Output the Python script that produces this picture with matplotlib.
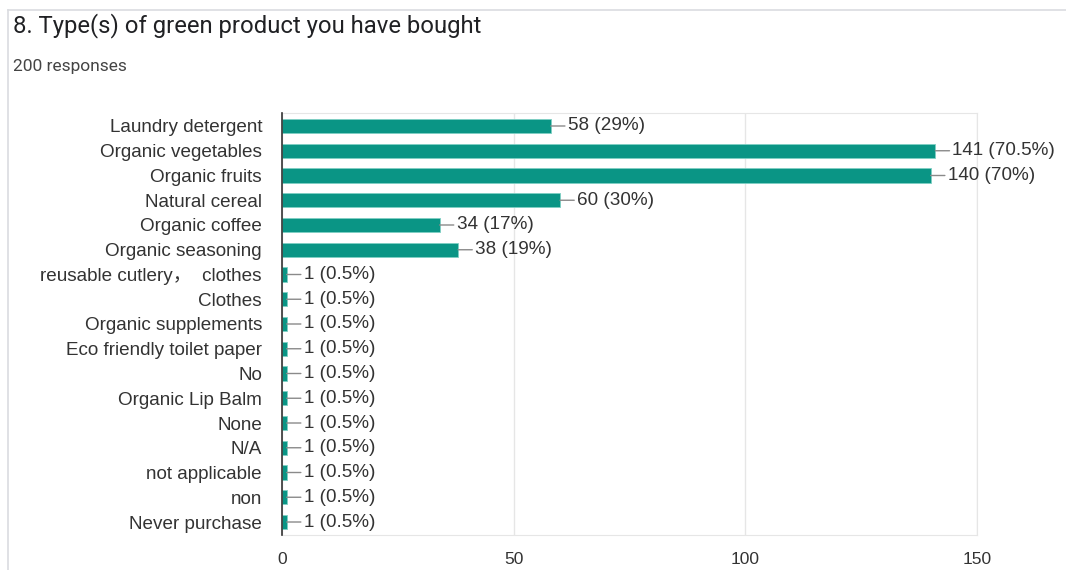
import matplotlib.pyplot as plt

# Survey question 8: counts of respondents per product type (200 responses)
categories = [
    "Laundry detergent",
    "Organic vegetables",
    "Organic fruits",
    "Natural cereal",
    "Organic coffee",
    "Organic seasoning",
    "reusable cutlery，  clothes",
    "Clothes",
    "Organic supplements",
    "Eco friendly toilet paper",
    "No",
    "Organic Lip Balm",
    "None",
    "N/A",
    "not applicable",
    "non",
    "Never purchase",
]
counts = [58, 141, 140, 60, 34, 38, 1, 1, 1, 1, 1, 1, 1, 1, 1, 1, 1]
percents = ["29%", "70.5%", "70%", "30%", "17%", "19%",
            "0.5%", "0.5%", "0.5%", "0.5%", "0.5%", "0.5%",
            "0.5%", "0.5%", "0.5%", "0.5%", "0.5%"]
x_ticks = [0, 50, 100, 150]

W, H = 1066, 570
BAR = "#0a9585"
TEXT = "#333333"
FONT = ["Liberation Sans", "Noto Sans CJK SC", "DejaVu Sans"]

plt.rcParams["font.family"] = FONT

fig = plt.figure(figsize=(W / 100, H / 100), dpi=100)
fig.patch.set_facecolor("white")

# card outline
fig.add_artist(plt.Line2D([8 / W, 8 / W], [0, 1 - 10 / H], color="#dadce0", lw=1.2))
fig.add_artist(plt.Line2D([8 / W, 1], [1 - 10 / H, 1 - 10 / H], color="#dadce0", lw=1.2))

fig.text(13 / W, 1 - 26 / H, "8. Type(s) of green product you have bought",
         family=["Roboto", "DejaVu Sans"], fontsize=17.2, color="#202124",
         va="center", ha="left")
fig.text(13 / W, 1 - 66 / H, "200 responses", family=["Roboto", "DejaVu Sans"],
         fontsize=12.5, color="#444444", va="center", ha="left")

left, right, top, bottom = 282, 977, 113, 535
ax = fig.add_axes([left / W, 1 - bottom / H, (right - left) / W, (bottom - top) / H])

ypos = list(range(len(categories)))
ax.barh(ypos, counts, height=0.57, color=BAR, edgecolor="#7fd0c4", linewidth=0.6, zorder=3)

for y, c, p in zip(ypos, counts, percents):
    ax.annotate(f"{c} ({p})", xy=(c, y), xytext=(17, 0), textcoords="offset pixels",
                va="center", ha="left", fontsize=13.6, color=TEXT,
                arrowprops=dict(arrowstyle="-", color="#8a8a8a", lw=1,
                                shrinkA=0, shrinkB=0),
                annotation_clip=False, zorder=4)

ax.set_xlim(0, 150)
ax.set_ylim(len(categories) - 0.475, -0.525)
ax.set_xticks(x_ticks)
ax.set_yticks(ypos)
ax.set_yticklabels(categories)
ax.tick_params(axis="both", length=0, colors=TEXT)
ax.tick_params(axis="y", pad=14.4, labelsize=13.6)
ax.tick_params(axis="x", pad=12, labelsize=12.5)
ax.xaxis.grid(True, color="#e6e6e6", lw=1, zorder=0)

for side in ["top", "right", "bottom"]:
    ax.spines[side].set_color("#e6e6e6")
ax.spines["left"].set_color("#333333")
ax.spines["left"].set_linewidth(1.2)
ax.spines["left"].set_zorder(5)

fig.savefig("out.png", dpi=100)
